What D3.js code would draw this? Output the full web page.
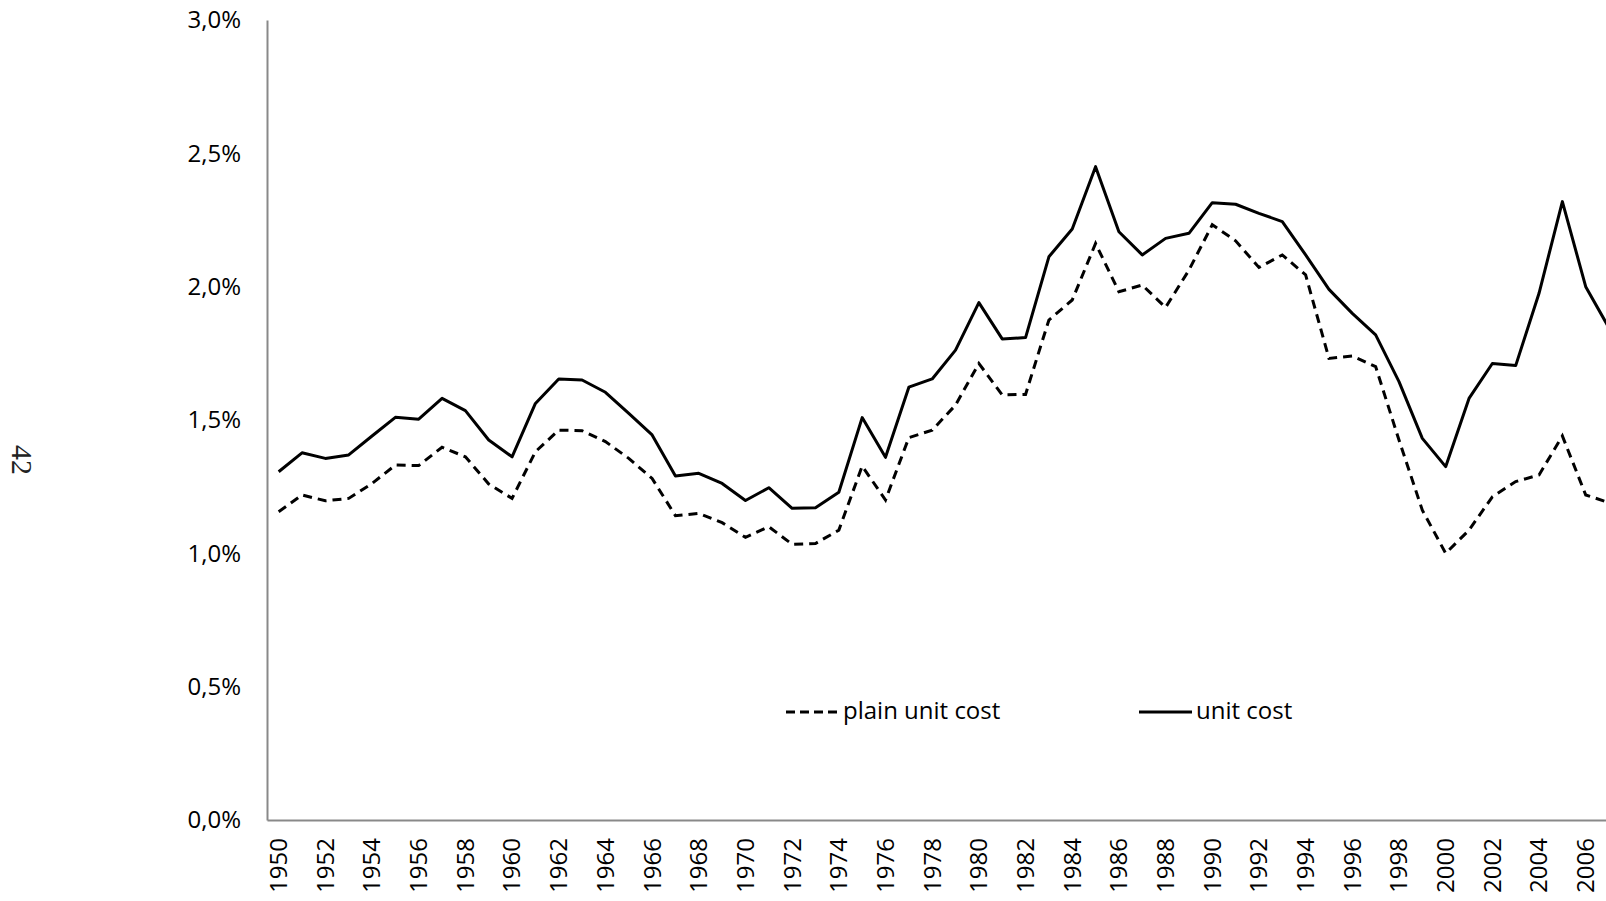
<!DOCTYPE html>
<html>
<head>
<meta charset="utf-8">
<script src="https://cdnjs.cloudflare.com/ajax/libs/d3/7.8.5/d3.min.js"></script>
<style>
body { margin: 0; background: #fff; overflow: hidden; }
</style>
</head>
<body>
<div id="chart"></div>
<script>
// data (percent)
var years = d3.range(1950, 2008);
var plainUnitCost = [1.156, 1.219, 1.197, 1.206, 1.262, 1.331, 1.329, 1.398, 1.362, 1.26,
    1.206, 1.381, 1.462, 1.46, 1.419, 1.356, 1.281, 1.141, 1.15, 1.115,
    1.06, 1.10, 1.034, 1.037, 1.087, 1.327, 1.20, 1.434, 1.462, 1.556,
    1.712, 1.594, 1.596, 1.875, 1.95, 2.162, 1.981, 2.006, 1.922, 2.062,
    2.232, 2.172, 2.072, 2.119, 2.044, 1.731, 1.74, 1.70, 1.425, 1.162,
    1.0, 1.087, 1.212, 1.269, 1.294, 1.44, 1.219, 1.19];
var unitCost = [1.306, 1.377, 1.356, 1.369, 1.44, 1.51, 1.503, 1.581, 1.535, 1.425,
    1.362, 1.562, 1.654, 1.65, 1.604, 1.525, 1.444, 1.29, 1.30, 1.262,
    1.198, 1.246, 1.169, 1.171, 1.229, 1.509, 1.36, 1.623, 1.654, 1.762,
    1.94, 1.804, 1.809, 2.112, 2.216, 2.45, 2.206, 2.119, 2.181, 2.20,
    2.315, 2.309, 2.275, 2.244, 2.119, 1.99, 1.90, 1.819, 1.644, 1.431,
    1.325, 1.581, 1.712, 1.704, 1.975, 2.319, 2.0, 1.845];
var yTicks = [0, 0.5, 1.0, 1.5, 2.0, 2.5, 3.0];
var yearTicks = years.filter(function(d){ return d % 2 == 0 });
var seriesNames = ["plain unit cost", "unit cost"];

var width = 1606, height = 901;
var margin = {top: 20, left: 267, bottom: 81};
var step = 23.34;

var svg = d3.select("#chart")
.append("svg")
.attr("width", width)
.attr("height", height)
.style("display", "block");

var font = "'Open Sans', 'Liberation Sans', sans-serif";

//add X
var x = d3.scaleBand()
.domain(years)
.range([margin.left, margin.left + years.length * step]);

//add Y
var y = d3.scaleLinear()
.domain([0, 3])
.range([height - margin.bottom, margin.top]);

var xAxis = svg.append("g")
.attr("transform", "translate(0," + y(0) + ")")
.call(d3.axisBottom(x).tickValues(yearTicks).tickSize(0).tickSizeOuter(0));
xAxis.select(".domain").attr("stroke", "#898989").attr("stroke-width", 2);
xAxis.selectAll("text")
.attr("transform", "rotate(-90)")
.attr("x", -18)
.attr("y", 0)
.attr("dy", "0.35em")
.style("text-anchor", "end")
.style("font-family", font)
.style("font-size", "24px")
.attr("fill", "#000");

var yAxis = svg.append("g")
.attr("transform", "translate(" + margin.left + ",0)")
.call(d3.axisLeft(y).tickValues(yTicks).tickSize(0).tickSizeOuter(0).tickPadding(26)
    .tickFormat(function(d){ return d.toFixed(1).replace(".", ",") + "%" }));
yAxis.select(".domain").attr("stroke", "#898989").attr("stroke-width", 2);
yAxis.selectAll("text")
.style("font-family", font)
.style("font-size", "24px")
.attr("fill", "#000");

// the lines
var line = d3.line()
.x(function(d, i){ return x(years[i]) + x.bandwidth() / 2 })
.y(function(d){ return y(d) });

svg.append("path")
.datum(plainUnitCost)
.attr("fill", "none")
.attr("stroke", "#000")
.attr("stroke-width", 3)
.attr("stroke-dasharray", "9,6")
.attr("d", line);

svg.append("path")
.datum(unitCost)
.attr("fill", "none")
.attr("stroke", "#000")
.attr("stroke-width", 3)
.attr("stroke-linejoin", "round")
.attr("d", line);

// legend
var legendY = 712;
var legend = svg.append("g");
var legendItems = [{name: seriesNames[0], x: 786, dash: "9,5"}, {name: seriesNames[1], x: 1139, dash: null}];
legendItems.forEach(function(item){
    legend.append("line")
    .attr("x1", item.x).attr("x2", item.x + 53)
    .attr("y1", legendY).attr("y2", legendY)
    .attr("stroke", "#000")
    .attr("stroke-width", 3)
    .attr("stroke-dasharray", item.dash);
    legend.append("text")
    .attr("x", item.x + 57)
    .attr("y", legendY)
    .attr("dy", "0.3em")
    .style("font-family", font)
    .style("font-size", "24px")
    .text(item.name);
});

// page number at left edge
svg.append("text")
.attr("transform", "translate(22,460) rotate(90)")
.attr("dy", "0.35em")
.style("text-anchor", "middle")
.style("font-family", "'Liberation Serif', serif")
.style("font-size", "30px")
.attr("fill", "#222")
.text("42");
</script>
</body>
</html>
